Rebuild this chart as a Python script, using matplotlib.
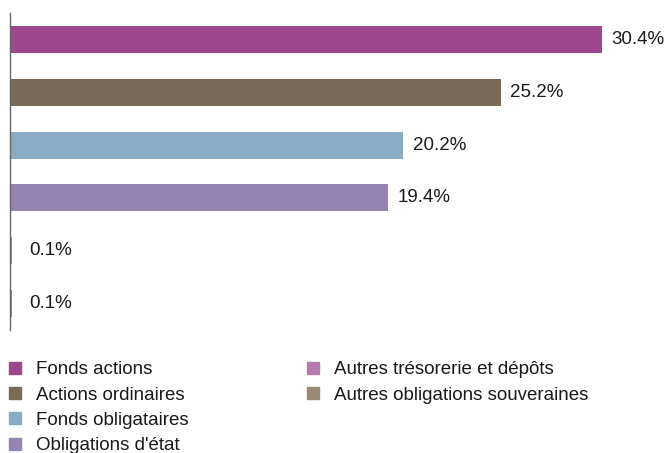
import matplotlib
matplotlib.use("Agg")
import matplotlib.pyplot as plt
from matplotlib.lines import Line2D

plt.rcParams['font.family'] = ['Liberation Sans', 'DejaVu Sans']

categories = ["Fonds actions", "Actions ordinaires", "Fonds obligataires",
              "Obligations d'état", "Autres trésorerie et dépôts",
              "Autres obligations souveraines"]
values = [30.4, 25.2, 20.2, 19.4, 0.1, 0.1]
labels = ["30.4%", "25.2%", "20.2%", "19.4%", "0.1%", "0.1%"]
colors = ["#9E468E", "#7A6A58", "#8AABC4", "#9484B4", "#B77AB0", "#9A8878"]

FS = 13.5
fig = plt.figure(figsize=(6.7, 4.53), dpi=100)
ax = fig.add_axes([10/670, 1 - 330/453, 660/670, 317/453])

y = list(range(len(values)))
ax.barh(y, values, height=0.51, color=colors)
ax.set_ylim(len(values) - 0.5, -0.5)
ax.set_xlim(0, 660 / 19.47)
for yi, v, lab in zip(y, values, labels):
    off = 7 if v > 1 else 12.5
    ax.annotate(lab, (v, yi), xytext=(off, 0), textcoords="offset points",
                va="center", ha="left", fontsize=FS, color="#1a1a1a")

for s in ["top", "right", "bottom"]:
    ax.spines[s].set_visible(False)
ax.spines["left"].set_color("#666666")
ax.spines["left"].set_linewidth(1)
ax.set_xticks([])
ax.set_yticks([])

handles = [Line2D([], [], marker="s", linestyle="none", markersize=8.5,
                  markerfacecolor=c, markeredgecolor=c) for c in colors]
kw = dict(loc="upper left", frameon=False, fontsize=FS, handlelength=0.9,
          handletextpad=0.65, labelspacing=0.44, borderaxespad=0, borderpad=0)
for lo, hi, x0 in [(0, 4, 7), (4, 6, 305)]:
    leg = fig.legend(handles[lo:hi], categories[lo:hi],
                     bbox_to_anchor=(x0/670, 1 - 361/453), **kw)
    for t in leg.get_texts():
        t.set_color("#1a1a1a")

fig.savefig("out.png", dpi=100)
